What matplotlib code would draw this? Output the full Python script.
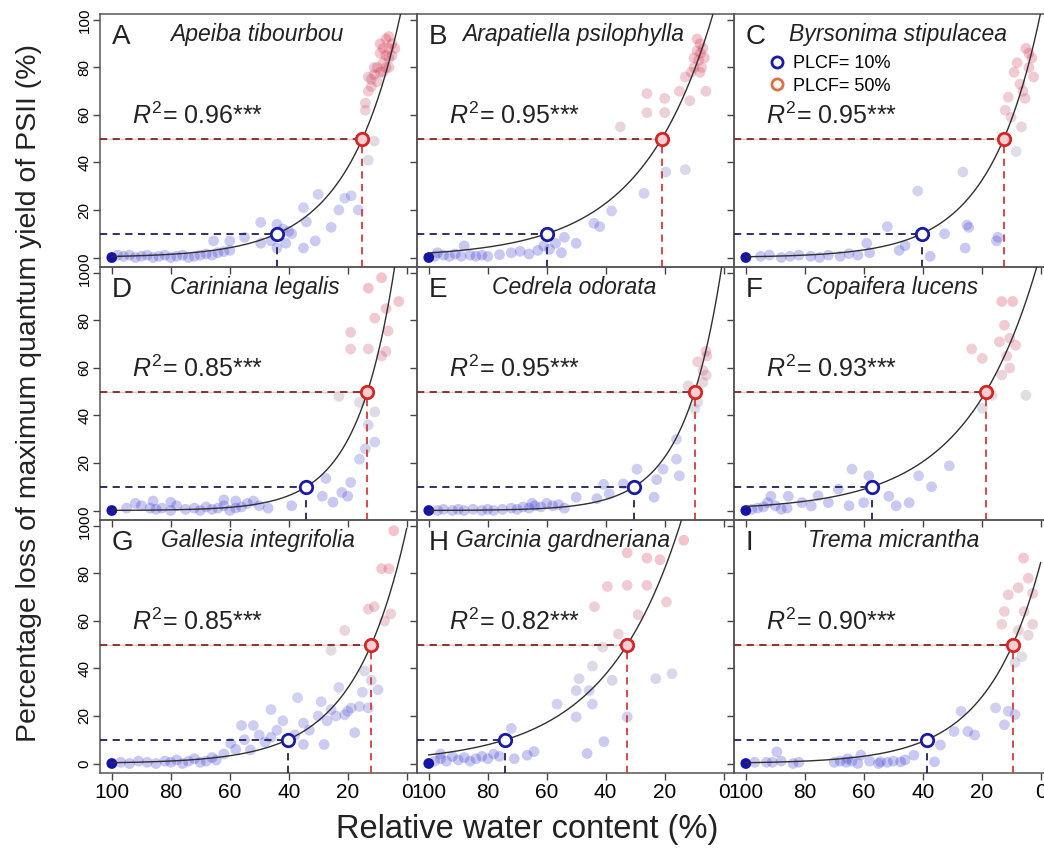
import numpy as np
import matplotlib.pyplot as plt
from matplotlib.colors import LinearSegmentedColormap
from matplotlib.lines import Line2D

plt.rcParams['font.family'] = ['Liberation Sans', 'DejaVu Sans']
plt.rcParams['mathtext.fontset'] = 'custom'
plt.rcParams['mathtext.rm'] = 'Liberation Sans'
plt.rcParams['mathtext.it'] = 'Liberation Sans:italic'

letters = list('ABCDEFGHI')
species = ['Apeiba tibourbou', 'Arapatiella psilophylla', 'Byrsonima stipulacea',
           'Cariniana legalis', 'Cedrela odorata', 'Copaifera lucens',
           'Gallesia integrifolia', 'Garcinia gardneriana', 'Trema micrantha']
r2 = ['0.96', '0.95', '0.95', '0.85', '0.95', '0.93', '0.85', '0.82', '0.90']
# RWC (%) at which PLCF reaches 10 % and 50 %
plcf10 = [44, 60, 40.3, 34, 30.3, 57.3, 40.3, 74, 38.6]
plcf50 = [15, 21, 12.5, 13.3, 9.8, 18.6, 12, 32.7, 9.5]
name_x = [50.7, 51, 48.3, 51.5, 50.7, 50.5, 50.5, 54.5, 49.8]

rwc_a = [98, 96, 94, 92, 90, 88, 86, 84, 82, 80, 78, 76, 74, 72, 70, 68, 66, 64, 62, 60,
         65.5, 60, 55, 49.5, 49.5, 46, 44, 44, 42, 41, 40, 39, 35, 35, 34, 31, 30, 25.6, 23, 21, 18.8, 16.4, 13, 11,
         14, 13, 12, 11, 10, 9, 8, 7, 6, 5, 6, 8, 10, 12, 9, 7, 5, 4, 11, 13, 6, 8, 14, 7, 9, 6]
loss_a = [1, 0.5, 1, 0, 0.5, 1, 0, 0.5, 1, 0, 0.5, 1, 0, 0.5, 1, 1.5, 1, 2, 2.5, 3,
          7, 7, 8.5, 6, 14.8, 7, 4, 14, 12, 6, 11, 10, 21, 4, 15, 7, 26.6, 12.7, 20, 25, 26, 20, 41, 49,
          65, 70, 75, 77, 80, 78, 82, 85, 88, 90, 84, 88, 74, 72, 86, 92, 85, 88, 80, 76, 80, 78, 62, 80, 90, 93]

rwc_b = [98, 97, 95, 93, 91, 89, 88, 86, 84, 82, 80, 76, 72, 69, 66, 63, 61, 59, 57, 55, 54, 50, 44, 42, 38, 27, 19.6, 13,
         35, 26, 26, 20, 20, 15, 11.5, 6, 13,
         9, 8.5, 10, 7.5, 8, 7.8, 9, 10, 7, 6.5, 11, 8]
loss_b = [0.5, 2, 1, 0.5, 1.5, 0.5, 4.9, 1, 0.5, 1, 0.5, 1.2, 2, 2.6, 1.5, 3, 4.9, 3.5, 6, 2, 8.5, 6, 14.4, 13, 19.6, 27, 36, 37,
          55, 61, 69, 67, 61, 70, 66, 70, 76,
          87, 83, 84, 80, 90, 86, 92, 80, 88, 84, 78, 78]

rwc_c = [95, 92, 88, 85, 82, 78, 75, 72, 68, 65, 62, 58, 59, 52, 46, 48, 41.7, 37.5, 32.6, 26.4, 25, 25.6, 24.4, 15, 14.5, 8.3,
         12, 11, 10, 6.5, 7, 5.3, 6, 4, 4, 3, 2.4, 9, 8, 5]
loss_c = [0.5, 1, 0, 0.5, 1, 0.5, 0, 1, 0.5, 1.6, 1, 2, 6, 13, 5, 3, 28, 0.5, 10, 36, 13.7, 4, 12.7, 7, 8.5, 44.6,
          62, 67.5, 59, 55, 73, 67, 70, 80, 86, 84, 76, 78, 82, 88]

rwc_d = [95, 92, 90, 87, 86, 85, 83, 80, 80, 78, 75, 72, 70, 68, 66, 64, 62, 62, 60, 58, 58, 56, 54, 52, 50, 47,
         39, 28.6, 27.4, 25, 22, 20, 19, 16, 14, 13, 10.8, 10.8, 23, 16,
         19, 13, 6.3, 10.8, 7, 8.5, 13, 19, 2.7, 8.5, 7]
loss_d = [1, 3, 2, 1, 4, 0.5, 1, 0, 3.5, 2, 0.5, 1, 0, 1.5, 0.5, 1, 2, 4.5, 0, 1, 4, 1.5, 3, 4, 2, 1,
          2, 6, 13.5, 3.5, 7.6, 6, 11.8, 21.6, 26, 36, 28.8, 41.5, 48, 45.5,
          68, 68, 75.6, 81, 85, 65, 93.6, 75, 88, 98, 67]

rwc_e = [97, 95, 92, 90, 88, 85, 82, 80, 78, 75, 72, 70, 68, 66, 64, 62, 60, 56, 54,
         65, 58, 50, 43, 40.7, 38.8, 34, 29.4, 23.6, 22.7, 20.5, 16, 15, 16,
         12, 9.8, 8.8, 5.7, 7, 8.8, 5.9, 7, 10, 6]
loss_e = [0, 0.5, 0, 0.5, 0, 0.5, 0, 0.5, 0, 0.5, 1, 0.5, 1.5, 1, 2, 1.5, 3, 2.5, 1,
          3, 2, 5.6, 5, 11, 7, 11.2, 17.4, 5.6, 13, 17.4, 21.6, 14.6, 30,
          52.5, 42.8, 45.6, 65, 59, 62.6, 57, 54, 50, 67]

rwc_f = [98, 96, 94, 92.6, 91.5, 90, 88, 86, 85.6, 81, 77.8, 75.5, 72, 68.6, 65, 64, 60, 58.3, 51.5, 49, 44.6, 41.4, 37, 31,
         19.8, 16.5, 5, 13.2, 10.5, 11.5, 19.8, 23.4, 8.5, 14, 10.5, 12.3, 13.2, 9.5]
loss_f = [0.5, 1, 1.5, 3.3, 6, 2, 0.5, 1, 6, 3.3, 1.9, 6.2, 3.3, 9, 2, 17.4, 3.3, 14.6, 6, 2, 3.3, 14.6, 10, 18.8,
          43, 48.5, 48.5, 57, 60, 65, 64, 68, 69.6, 71, 72.5, 78, 88, 88]

rwc_g = [97, 94, 91, 88, 85, 82, 80, 78, 76, 74, 72, 70, 68, 66, 64.6, 62,
         59.7, 56, 53, 52, 46, 46, 37, 35, 35, 30, 29, 28, 25.6, 23, 21, 18.8, 17.6, 14.3, 13, 12, 9.7, 25.6, 21,
         58, 55, 50, 48, 44, 42, 38, 33, 27, 24, 20, 16, 15,
         13, 11, 7.5, 5.4, 8.5, 6, 4.4]
loss_g = [0.5, 0, 1, 0.5, 0, 1, 0.5, 1.5, 0, 1, 2, 0.5, 1, 2.5, 1.4, 4,
          8.5, 16, 5.7, 16, 22.7, 11, 27.7, 17, 8, 20, 26, 8, 22.7, 32, 20.5, 23.4, 13, 39, 23.4, 35, 31, 47.6, 56,
          6, 10, 12, 9, 14, 18, 12, 14, 18, 20, 22, 24, 30,
          65, 66, 60, 63, 82, 82, 98]

rwc_h = [98, 96, 94, 92, 90, 88, 86, 84, 82, 80, 78, 76, 96,
         71, 72, 66.6, 64.3, 56.5, 50, 50, 49, 45.6, 44.5, 44.5, 46.3, 40.6, 41, 37.8, 35.7, 32.7, 23, 17.5,
         29, 43.8, 39.4, 32.7, 26, 19.4, 32.7, 26, 21.6, 13.5]
loss_h = [1, 2, 1, 3, 1.5, 2.5, 1, 2, 3, 2, 4, 3, 4,
          2, 14.8, 3.5, 5, 25, 19.6, 30.7, 35.7, 30.7, 25, 41, 4.2, 9.2, 49, 35, 54.5, 19.6, 35.7, 37.8,
          62.6, 66, 74.5, 75, 75, 68, 88.7, 86.5, 85.8, 94]

rwc_i = [97, 93, 91, 88, 84, 82, 89.5, 70, 68, 66, 64, 62, 58, 55, 52, 50, 46, 65.5, 61,
         54.3, 47.5, 43, 36, 34, 29.4, 27, 24.7, 22.4, 15.3, 12.3, 11, 8.7,
         8.7, 6.4, 13.2, 2.7, 7.6, 4.2, 12.3, 5.6, 11, 2.7, 7.6, 4.2, 5.8]
loss_i = [0.5, 0.5, 0.5, 1, 0, 0.5, 4.9, 0.5, 1, 0.5, 1, 0, 1, 0, 0.5, 1, 1.5, 2, 3.5,
          0.7, 0.7, 3.5, 0.7, 7.8, 13.5, 22, 13.5, 12, 23.4, 16.3, 22, 20.6,
          42.5, 45, 58.6, 58.6, 56, 54, 64, 64, 71, 71.6, 74, 78, 86.5]

rwc_all = [rwc_a, rwc_b, rwc_c, rwc_d, rwc_e, rwc_f, rwc_g, rwc_h, rwc_i]
loss_all = [loss_a, loss_b, loss_c, loss_d, loss_e, loss_f, loss_g, loss_h, loss_i]

cmap = LinearSegmentedColormap.from_list(
    'br', [(0, '#2a2ad0'), (0.3, '#5555c8'), (0.45, '#85859a'), (0.6, '#c05068'), (1, '#d81535')])

blue = '#1a1aa8'
red = '#d82424'

fig = plt.figure(figsize=(10.44, 8.55), dpi=100)
lefts = [0.0958, 0.3994, 0.7031]
bottoms = [0.6877, 0.3918, 0.0959]
w, h = 0.3036, 0.2959
xlo, xhi = 104, -3.5
ylo, yhi = -4, 102.5

for i in range(9):
    r, c = divmod(i, 3)
    ax = fig.add_axes([lefts[c], bottoms[r], w, h])
    ax.set_facecolor('none')
    ax.set_xlim(xlo, xhi)
    ax.set_ylim(ylo, yhi)

    x = np.array(rwc_all[i])
    y = np.array(loss_all[i])
    ax.scatter(x, y, s=60, c=cmap(np.clip(y / 100, 0, 1)), alpha=0.26, edgecolors='none', zorder=2)
    # control (fully hydrated) point
    ax.scatter([100], [0], s=60, color='#1414a8', edgecolors='none', zorder=3)

    x10, x50 = plcf10[i], plcf50[i]
    # reference lines
    ax.plot([xlo, x10], [10, 10], color='#20205a', lw=1.3, ls=(0, (4, 3)), zorder=3)
    ax.plot([x10, x10], [ylo, 10], color='#20205a', lw=1.3, ls=(0, (4, 3)), zorder=3)
    ax.plot([xlo, x50], [50, 50], color='#f3c6b8', lw=1.0, zorder=2.5)
    ax.plot([xlo, x50], [50, 50], color='#7a2a2a', lw=1.3, ls=(0, (4, 3)), zorder=3)
    ax.plot([x50, x50], [ylo, 50], color='#d83a3a', lw=1.3, ls=(0, (4, 3)), zorder=3)

    # fitted exponential vulnerability curve
    k = np.log(5) / (x10 - x50)
    xs = np.linspace(100, 0, 400)
    ax.plot(xs, 50 * np.exp(k * (x50 - xs)), color='#303030', lw=1.0, zorder=4)

    ax.scatter([x10], [10], s=80, facecolors='white', edgecolors=blue, linewidths=2, zorder=5)
    ax.scatter([x50], [50], s=80, facecolors='#f6d0d0', edgecolors=red, linewidths=2, zorder=5)

    ax.text(100, 93, letters[i], fontsize=20, ha='left', va='center', color='#222222')
    ax.text(name_x[i], 94, species[i], fontsize=16.5, style='italic', ha='center', va='center', color='#222222')
    ax.text(93, 59.5, r'$\it{R}^2$= ' + r2[i] + '***', fontsize=18, ha='left', va='center', color='#222222')

    ax.set_xticks([100, 80, 60, 40, 20, 0])
    ax.set_yticks([0, 20, 40, 60, 80, 100])
    ax.tick_params(direction='out', length=5, width=1, color='#444444')
    ax.tick_params(axis='x', labelsize=15, pad=2)
    ax.tick_params(axis='y', labelsize=11, labelrotation=90, pad=1)
    for lab in ax.get_yticklabels():
        lab.set_va('center')
    if c != 0:
        ax.tick_params(axis='y', labelleft=False)
    if r != 2:
        ax.tick_params(axis='x', labelbottom=False)
    for sp in ax.spines.values():
        sp.set_color('#555555')
        sp.set_linewidth(1.1)

    if i == 2:
        handles = [Line2D([], [], ls='none', marker='o', ms=8, mfc='none', mec=blue, mew=2),
                   Line2D([], [], ls='none', marker='o', ms=8, mfc='none', mec='#e07040', mew=2)]
        ax.legend(handles, ['PLCF= 10%', 'PLCF= 50%'], loc='upper left', bbox_to_anchor=(0.09, 0.865),
                  frameon=False, fontsize=13, handlelength=0.8, handletextpad=0.5,
                  labelspacing=0.3, borderaxespad=0)

fig.text(0.028, 0.54, 'Percentage loss of maximum quantum yield of PSII (%)',
         rotation=90, ha='center', va='center', fontsize=20.5, color='#222222')
fig.text(0.505, 0.03, 'Relative water content (%)', ha='center', va='center',
         fontsize=23.5, color='#222222')

fig.savefig('out.png', dpi=100)
